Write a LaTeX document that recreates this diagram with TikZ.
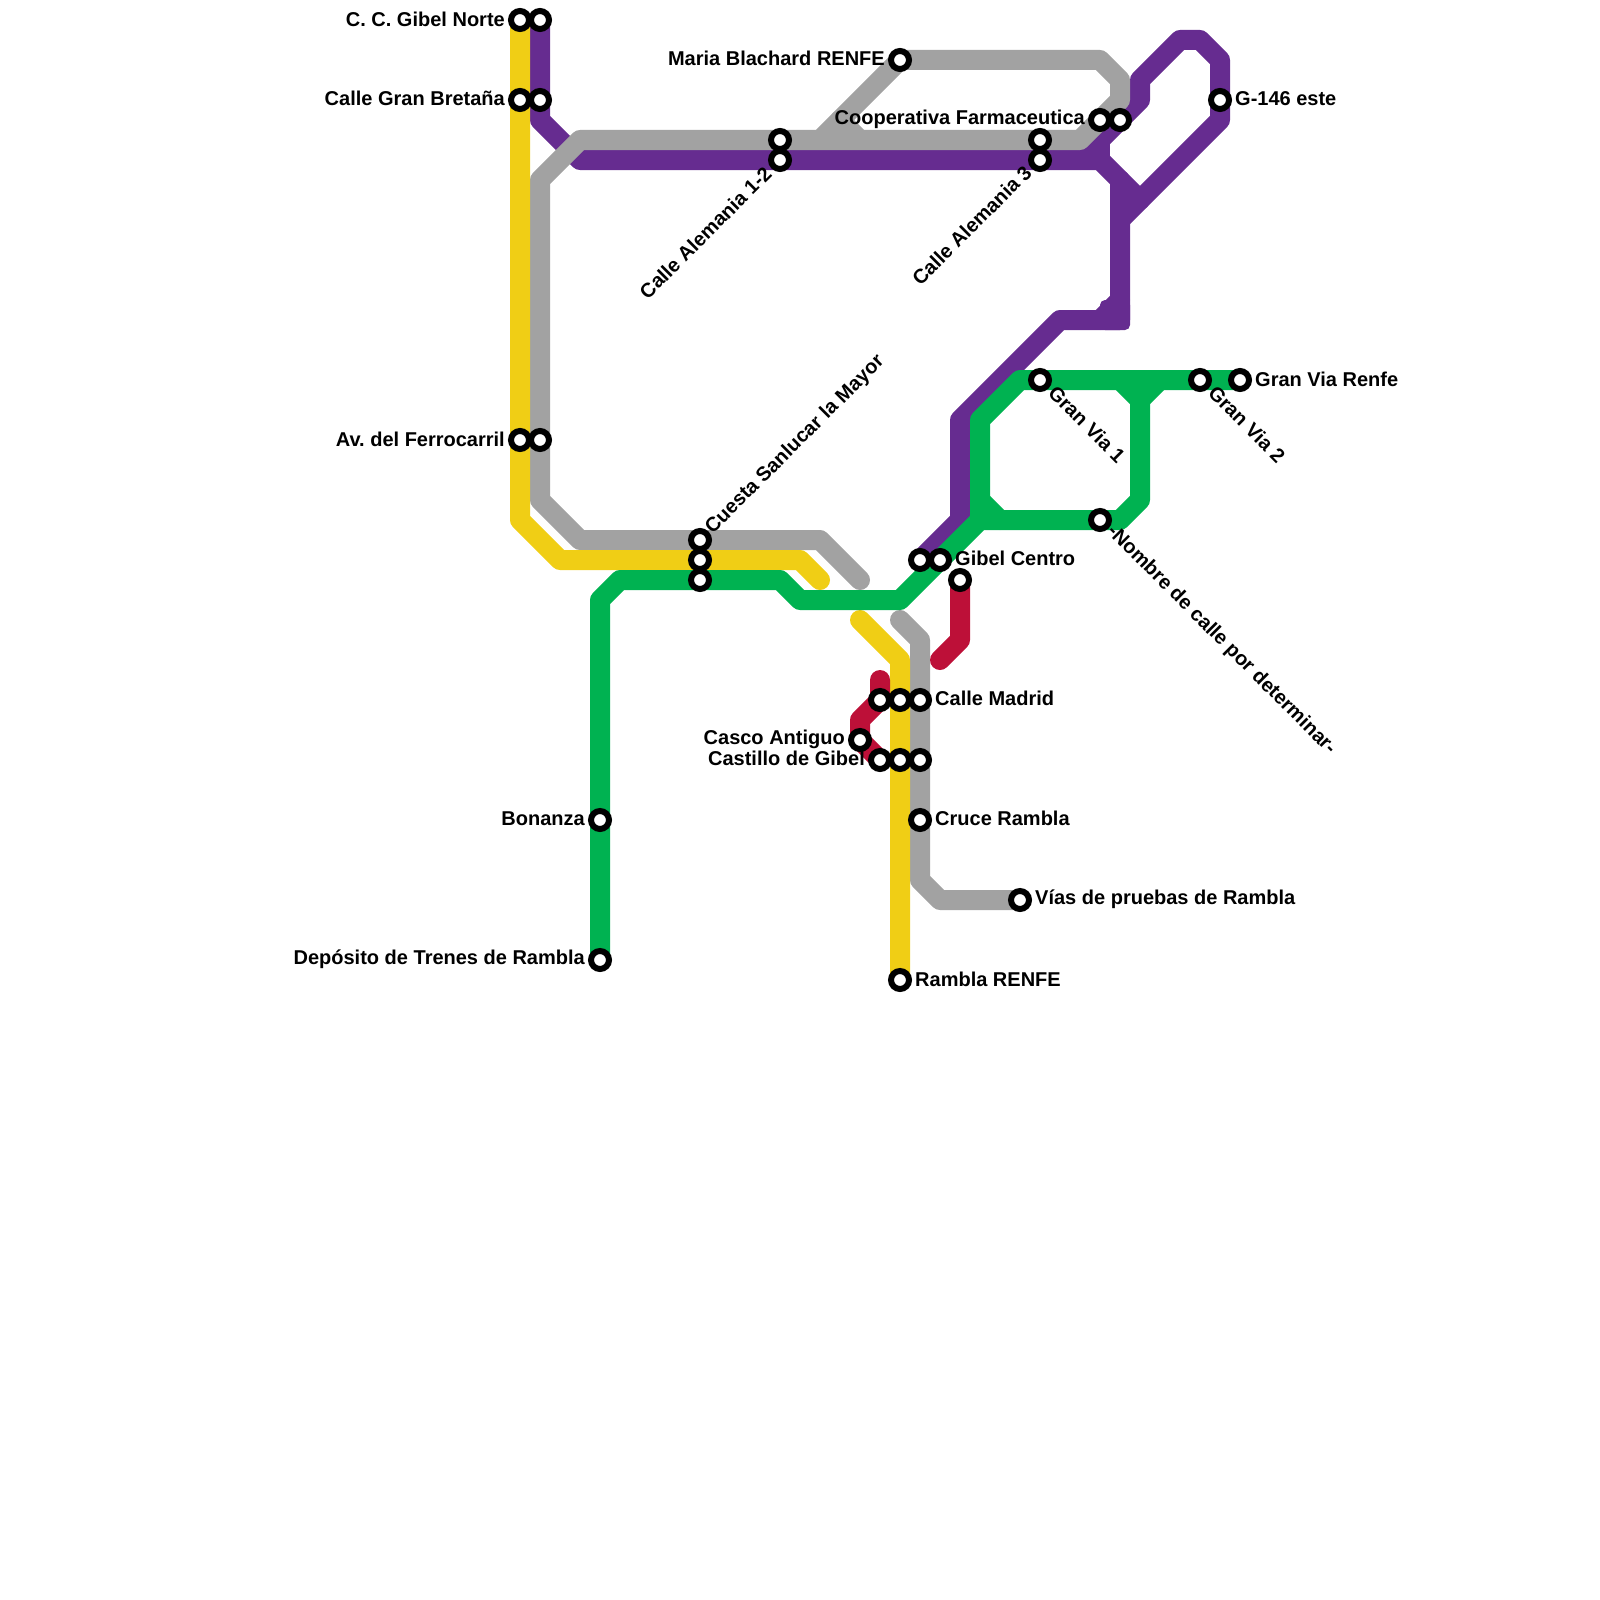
\documentclass[tikz,border=0pt]{standalone}
\usepackage{fontspec}
\setmainfont{Liberation Sans}
\usetikzlibrary{backgrounds}
\definecolor{ly}{HTML}{F0CE15}
\definecolor{lg}{HTML}{00B251}
\definecolor{lp}{HTML}{662C90}
\definecolor{lh}{HTML}{A2A2A2}
\definecolor{lr}{HTML}{BD1038}
\tikzset{
  x=1pt,y=-1pt,
  stn/.style={circle,draw=black,fill=white,line width=6pt,inner sep=0pt,minimum size=18pt},
  rail/.style={line width=20pt,line cap=round,line join=round},
  lb/.style={font=\fontsize{20}{20}\selectfont\bfseries\frenchspacing,text=black,inner sep=0pt},
  lbl/.style={lb,anchor=east},
  lbr/.style={lb,anchor=west},
}
\begin{document}
\begin{tikzpicture}
\useasboundingbox (0,0) rectangle (1600,1600);
% stations
\foreach \n/\x/\y in {
 gn/520/20, gnb/540/20, gb/520/100, gbb/540/100, fe/520/440, feb/540/440,
 cu/700/540, cub/700/560, cuc/700/580, ala/780/140, alb/780/160,
 ma/900/60, aca/1040/140, acb/1040/160, coa/1100/120, cob/1120/120, gi/1220/100,
 va/1040/380, vb/1200/380, vc/1240/380, no/1100/520,
 gca/920/560, gcb/940/560, gcc/960/580,
 cma/880/700, cmb/900/700, cmc/920/700,
 ca/860/740, cga/880/760, cgb/900/760, cgc/920/760,
 cr/920/820, vi/1020/900, ra/900/980, bo/600/820, de/600/960}
 {\node[stn] (\n) at (\x,\y) {};}
% labels
\node[lbl] (tgn) at (505,19) {C. C. Gibel Norte};
\node[lbl] (tgb) at (505,98) {Calle Gran Bretaña};
\node[lbl] (tfe) at (505,439) {Av. del Ferrocarril};
\node[lbl] (tbo) at (585,819) {Bonanza};
\node[lbl] (tde) at (585,959) {Depósito de Trenes de Rambla};
\node[lbl] (tma) at (885,58) {Maria Blachard RENFE};
\node[lbl] (tco) at (1085,119) {Cooperativa Farmaceutica};
\node[lbl] (tca) at (845,739) {Casco Antiguo};
\node[lbl] (tcg) at (865,758) {Castillo de Gibel};
\node[lbr] (tgi) at (1235,99) {G-146 este};
\node[lbr] (tvc) at (1255,379) {Gran Via Renfe};
\node[lbr] (tgc) at (955,558) {Gibel Centro};
\node[lbr] (tcm) at (935,698) {Calle Madrid};
\node[lbr] (tcr) at (935,818) {Cruce Rambla};
\node[lbr] (tvi) at (1035,899) {Vías de pruebas de Rambla};
\node[lbr] (tra) at (915,979) {Rambla RENFE};
\node[lbl,rotate=45] (tal) at (768,170) {Calle Alemania 1-2};
\node[lbl,rotate=45] (tac) at (1028,169) {Calle Alemania 3};
\node[lbr,rotate=45] (tcu) at (709,531) {Cuesta Sanlucar la Mayor};
\node[lbr,rotate=-45] (tva) at (1052,389) {Gran Via 1};
\node[lbr,rotate=-45] (tvb) at (1212,389) {Gran Via 2};
\node[lbr,rotate=-45] (tno) at (1110,529) {-Nombre de calle por determinar-};
\begin{pgfonlayer}{background}
% purple
\draw[rail,lp] (gnb.center) -- (gbb.center) -- (540,120) -- (580,160) -- (alb.center) -- (acb.center) -- (1100,160) -- (1140,200);
\draw[rail,lp] (1120,180) -- (1120,320) -- (1060,320) -- (960,420) -- (960,520) -- (gca.center);
\fill[lp,rounded corners=5pt] (1100,300) rectangle (1130,330);
\draw[rail,lp] (1120,300) -- (1100,320);
\draw[rail,lp] (1100,160) -- (1100,140);
\draw[rail,lp] (1080,160) -- (1140,100) -- (1140,80) -- (1180,40) -- (1200,40) -- (1220,60) -- (gi.center) -- (1220,120) -- (1120,220);
% gray
\draw[rail,lh] (feb.center) -- (540,180) -- (580,140) -- (ala.center) -- (aca.center) -- (1080,140) -- (1120,100) -- (1120,80) -- (1100,60) -- (ma.center) -- (820,140);
\draw[rail,lh] (840,120) -- (860,140);
\draw[rail,lh] (feb.center) -- (540,500) -- (580,540) -- (cu.center) -- (820,540) -- (860,580);
\draw[rail,lh] (900,620) -- (920,640) -- (cmc.center) -- (cgc.center) -- (cr.center) -- (920,880) -- (940,900) -- (vi.center);
% yellow
\draw[rail,ly] (gn.center) -- (gb.center) -- (fe.center) -- (520,520) -- (560,560) -- (cub.center) -- (800,560) -- (820,580);
\draw[rail,ly] (860,620) -- (900,660) -- (cmb.center) -- (cgb.center) -- (ra.center);
% green
\draw[rail,lg] (de.center) -- (bo.center) -- (600,600) -- (620,580) -- (cuc.center) -- (780,580) -- (800,600) -- (900,600) -- (980,520) -- (no.center) -- (1120,520) -- (1140,500) -- (1140,400);
\draw[rail,lg] (980,520) -- (980,420) -- (1020,380) -- (va.center) -- (vb.center) -- (vc.center);
\draw[rail,lg] (1120,380) -- (1140,400) -- (1160,380);
\draw[rail,lg] (980,500) -- (1000,520);
% red
\draw[rail,lr] (gcc.center) -- (960,640) -- (940,660);
\draw[rail,lr] (880,680) -- (cma.center) -- (860,720) -- (ca.center) -- (880,760);
\end{pgfonlayer}
\end{tikzpicture}
\end{document}
